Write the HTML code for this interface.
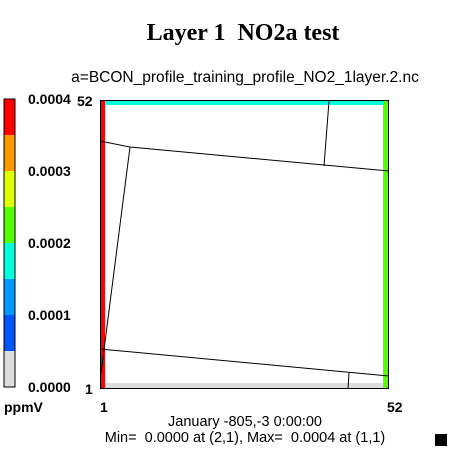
<!DOCTYPE html>
<html><head><meta charset="utf-8"><style>
body{margin:0;background:#fff}
svg{display:block;font-family:"Liberation Sans",sans-serif}
text{white-space:pre}
</style></head><body>
<svg width="450" height="450" viewBox="0 0 450 450">
<text x="243" y="40" text-anchor="middle" font-family="Liberation Serif" font-weight="bold" font-size="24">Layer 1  NO2a test</text>
<text x="245" y="82" text-anchor="middle" font-size="15.5">a=BCON_profile_training_profile_NO2_1layer.2.nc</text>
<g id="cbar"></g>
<g id="plot"></g>
<text x="4" y="412" font-size="14" font-weight="bold">ppmV</text>
<text x="100" y="412" font-size="14" font-weight="bold">1</text>
<text x="387" y="412" font-size="14" font-weight="bold">52</text>
<text x="85" y="394" font-size="14" font-weight="bold">1</text>
<text x="77" y="106" font-size="14" font-weight="bold">52</text>
<text x="245" y="426" text-anchor="middle" font-size="14.5">January -805,-3 0:00:00</text>
<text x="245" y="442" text-anchor="middle" font-size="14.5">Min=  0.0000 at (2,1), Max=  0.0004 at (1,1)</text>
<rect x="435" y="434" width="12" height="12" fill="#000"/>
</svg>
<script>
const colors=["#dddddd","#0055ff","#0099ff","#00ffdd","#55ff00","#ddff00","#ff9900","#ff0000"];
const tickLabels=["0.0000","0.0001","0.0002","0.0003","0.0004"];
const ns="http://www.w3.org/2000/svg";
function mk(t,a,p){const e=document.createElementNS(ns,t);for(const k in a)e.setAttribute(k,a[k]);p.appendChild(e);return e;}
const cb=document.getElementById('cbar');
const cTop=99,cBot=387,segH=(cBot-cTop)/colors.length;
colors.forEach((c,i)=>{const r=mk('rect',{x:4,y:cBot-(i+1)*segH,width:11,height:segH,fill:c},cb);

});
mk('rect',{x:4,y:cTop,width:11,height:cBot-cTop,fill:'none',stroke:'#000','stroke-width':1},cb);
tickLabels.forEach((t,i)=>{const e=mk('text',{x:28,y:cBot-i*(cBot-cTop)/4+5,'font-size':14,'font-weight':'bold'},cb);e.textContent=t;

});
const p=document.getElementById('plot');
mk('rect',{x:100,y:100,width:289,height:289,fill:'#fff'},p);
mk('rect',{x:100,y:101,width:289,height:4,fill:'#00ffdd'},p);
mk('rect',{x:100,y:383,width:289,height:6,fill:'#dddddd'},p);
mk('rect',{x:101,y:101,width:4,height:288,fill:'#ff0000'},p);
mk('rect',{x:383,y:101,width:6,height:288,fill:'#55ff00'},p);
const lines=["M100,141 L130,147 L389,171","M130,147 L101,373","M329,101 L324,166","M100,349 L389,376","M349,373 L348,389"];
lines.forEach(d=>{const e=mk('path',{d:d,fill:'none',stroke:'#000','stroke-width':1},p);

});
mk('rect',{x:100.5,y:100.5,width:288,height:288,fill:'none',stroke:'#000','stroke-width':1},p);
</script>
</body></html>
